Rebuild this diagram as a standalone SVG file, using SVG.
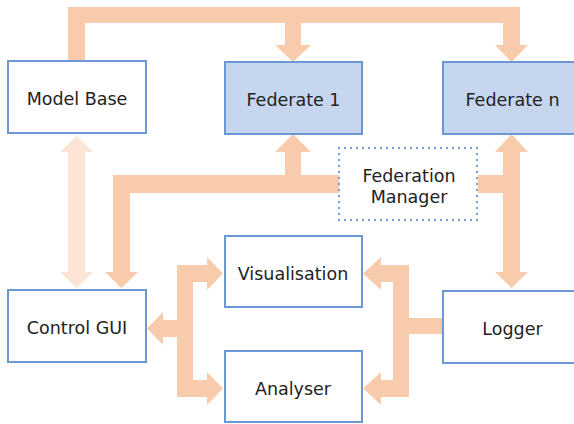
<svg xmlns="http://www.w3.org/2000/svg" width="574" height="424" viewBox="0 0 574 424">
<style>
.a{fill:#F8CBAD;stroke:none}
.al{fill:#FCE4D6;stroke:none}
.b{fill:#ffffff;stroke:#6b97d4;stroke-width:2}
.f{fill:#C6D6EE;stroke:#6b97d4;stroke-width:2}
.d{fill:#ffffff;stroke:#7a9fd6;stroke-width:2.4;stroke-dasharray:0 6;stroke-linecap:round}
text{font-family:"DejaVu Sans","Verdana",sans-serif;font-size:17.5px;fill:#222;text-anchor:middle}
</style>
<rect width="574" height="424" fill="#ffffff"/>
<g id="connectors">
<path class="a" d="M68,61 V7 H520 V45 H528 L511.5,62 L495,45 H503 V23 H301 V45 H311 L293,62 L275,45 H285 V23 H85 V61 Z"/>
<path class="al" d="M76.5,136 L93,152 H85 V272 H93 L76.5,288 L60,272 H68 V152 H60 Z"/>
<path class="a" d="M340,175 H301 V152 H311 L293,134 L275,152 H285 V175 H113 V272 H105 L121.5,288 L138,272 H130 V193 H340 Z"/>
<path class="a" d="M478,175 H503 V152 H495 L511.5,134 L528,152 H520 V272 H528 L511.5,288 L495,272 H503 V193 H478 Z"/>
<path class="a" d="M177,265 H207 V257 L223,273.5 L207,290 V282 H193 V380 H207 V372 L223,388.5 L207,405 V397 H177 V337 H163 V345 L147,328.5 L163,312 V320 H177 Z"/>
<path class="a" d="M409,265 V318 H443 V334 H409 V397 H381 V405 L363,388.5 L381,372 V380 H393 V282 H381 V290 L363,273.5 L381,257 V265 Z"/>
</g>
<g id="model-base"><rect class="b" x="8" y="61" width="138" height="72"/><text x="77" y="105">Model Base</text></g>
<g id="federate-1"><rect class="f" x="225" y="62" width="137" height="72"/><text x="293.5" y="106">Federate 1</text></g>
<g id="federate-n"><rect class="f" x="443" y="62" width="140" height="72"/><text x="512.5" y="106">Federate n</text></g>
<g id="federation-manager"><rect class="d" x="339" y="148" width="138" height="72"/><text x="409" y="182">Federation</text><text x="409" y="203">Manager</text></g>
<g id="control-gui"><rect class="b" x="8" y="290" width="138" height="72"/><text x="77" y="334">Control GUI</text></g>
<g id="visualisation"><rect class="b" x="225" y="236" width="137" height="71"/><text x="293" y="280">Visualisation</text></g>
<g id="analyser"><rect class="b" x="225" y="351" width="137" height="71"/><text x="293" y="395">Analyser</text></g>
<g id="logger"><rect class="b" x="443" y="291" width="140" height="72"/><text x="512.5" y="335">Logger</text></g>
</svg>
